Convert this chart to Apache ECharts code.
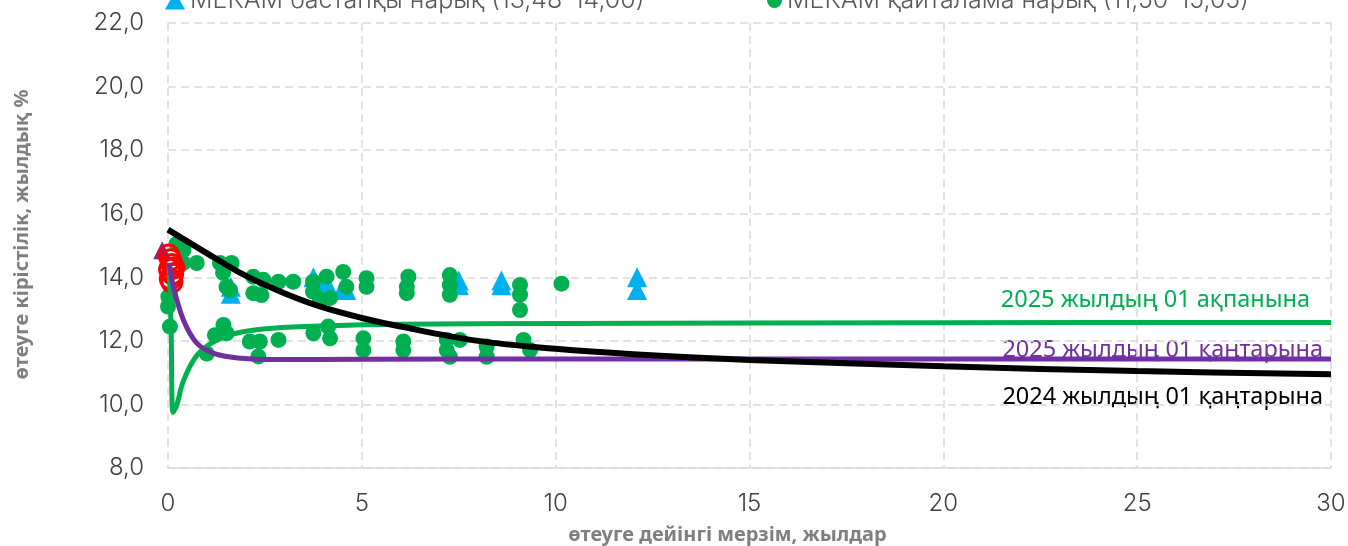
<!DOCTYPE html>
<html>
<head>
<meta charset="utf-8">
<script src="https://cdn.jsdelivr.net/npm/echarts@6/dist/echarts.min.js"></script>
<style>
  html, body { margin: 0; padding: 0; background: #fff; }
  #container { width: 1348px; height: 546px; }
</style>
</head>
<body>
<div id="container"></div>
<script>
var dom = document.getElementById("container");
var myChart = echarts.init(dom);

// legend names
var primaryName = 'МЕКАМ бастапқы нарық (13,48-14,00)';
var secondaryName = 'МЕКАМ қайталама нарық (11,50-15,05)';

// curve labels
var curveNames = ['2025 жылдың 01 ақпанына', '2025 жылдың 01 қаңтарына', '2024 жылдың 01 қаңтарына'];

// yield curves [maturity, yield]
var curveFeb2025 = [[0.03, 14.4], [0.08, 12.4], [0.13, 9.75], [0.22, 9.95], [0.4, 10.75], [0.75, 11.55],
    [1.25, 12.02], [1.9, 12.28], [2.7, 12.4], [4, 12.47], [6, 12.52], [10, 12.55], [20, 12.57], [30, 12.58]];
var curveJan2025 = [[0.03, 14.45], [0.14, 13.7], [0.4, 12.65], [0.75, 11.92], [1.2, 11.6], [1.9, 11.45],
    [2.7, 11.41], [5, 11.42], [10, 11.43], [30, 11.43]];
var curveJan2024 = [[0, 15.5], [1, 14.76], [2, 14.05], [3, 13.5], [4, 13.05], [5, 12.72],
    [6, 12.45], [8, 12.0], [10, 11.75], [12, 11.58], [15, 11.4], [20, 11.2], [25, 11.05], [30, 10.95]];

// primary market deals
var primaryDeals = [[1.62, 13.48], [1.62, 13.7], [3.75, 14.0], [3.9, 13.75], [4.1, 13.8], [4.5, 13.65],
    [4.6, 13.6], [7.5, 13.9], [7.5, 13.75], [8.6, 13.9], [8.6, 13.75], [12.1, 14.0], [12.1, 13.6]];

// secondary market deals
var secondaryDeals = [[0.22, 15.05], [0.4, 14.86], [0.39, 14.45], [0.74, 14.45], [0.01, 13.39], [0, 13.08],
    [0.05, 12.45], [1.34, 14.45], [1.64, 14.45], [1.42, 14.14], [1.51, 13.7], [1.6, 13.6], [2.2, 14.02],
    [2.46, 13.92], [2.2, 13.5], [2.41, 13.44], [2.85, 13.86], [3.23, 13.86], [3.74, 13.86], [4.09, 14.02],
    [4.52, 14.17], [4.6, 13.7], [5.12, 13.97], [5.12, 13.7], [3.74, 13.55], [3.92, 13.29], [4.18, 13.35],
    [1.43, 12.5], [1.51, 12.24], [1.0, 11.6], [1.21, 12.18], [2.11, 11.98], [2.37, 11.98], [2.33, 11.51],
    [2.85, 12.03], [3.75, 12.24], [4.13, 12.45], [4.18, 12.08], [5.04, 12.08], [5.04, 11.71],
    [6.2, 14.02], [6.16, 13.7], [6.16, 13.5], [7.27, 14.07], [7.27, 13.76], [7.27, 13.45], [9.08, 13.76],
    [9.08, 13.45], [9.08, 12.97], [10.15, 13.8], [6.07, 11.98], [6.07, 11.71], [7.19, 12.03], [7.19, 11.71],
    [7.27, 11.5], [7.53, 12.03], [8.22, 11.82], [8.22, 11.5], [9.17, 12.03], [9.34, 11.71]];

// short notes (red) and purple start point
var redNotes = [[0.02, 14.7], [0.07, 14.55], [0.1, 14.4], [0.04, 14.25], [0.15, 14.3], [0.12, 14.1],
    [0.06, 13.95], [0.1, 13.85]];
var purpleStart = [[-0.15, 14.85]];

var tickFont = 'Inter';
var option = {
    animation: false,
    backgroundColor: '#ffffff',
    grid: { left: 168, right: 17, top: 23, bottom: 78, outerBoundsMode: 'none', containLabel: false },
    legend: [{
        data: [{ name: primaryName, icon: 'triangle' }],
        left: 160, top: -17, itemWidth: 20, itemHeight: 18,
        textStyle: { fontFamily: tickFont, fontWeight: 300, fontSize: 25, color: '#595959' }
    }, {
        data: [{ name: secondaryName, icon: 'circle' }],
        left: 762, top: -17, itemWidth: 15, itemHeight: 15,
        textStyle: { fontFamily: tickFont, fontWeight: 300, fontSize: 25, color: '#595959' }
    }],
    xAxis: {
        type: 'value', min: 0, max: 30, interval: 5,
        name: 'өтеуге дейінгі мерзім, жылдар',
        nameLocation: 'middle', nameGap: 57,
        nameTextStyle: { fontFamily: 'Noto Sans', fontWeight: 'bold', fontSize: 20, color: '#7f7f7f', padding: [0, 44, 0, 0] },
        axisLine: { lineStyle: { color: '#d9d9d9', width: 1.5 } },
        axisTick: { show: false },
        axisLabel: { margin: 24, fontFamily: tickFont, fontWeight: 300, fontSize: 24, color: '#404040' },
        splitLine: { show: true, lineStyle: { color: '#d9d9d9', type: [8, 5], width: 1.5 } }
    },
    yAxis: {
        type: 'value', min: 8, max: 22, interval: 2,
        name: 'өтеуге кірістілік, жылдық %',
        nameLocation: 'middle', nameGap: 136, nameRotate: 90,
        nameTextStyle: { fontFamily: 'Noto Sans', fontWeight: 'bold', fontSize: 20, color: '#7f7f7f', padding: [0, 0, 0, 22] },
        axisLine: { show: false },
        axisTick: { show: false },
        axisLabel: {
            margin: 24, fontFamily: tickFont, fontWeight: 300, fontSize: 24, color: '#404040',
            formatter: function (v) { return v.toFixed(1).replace('.', ','); }
        },
        splitLine: { show: true, lineStyle: { color: '#d9d9d9', type: [8, 5], width: 1.5 } }
    },
    graphic: [
        { type: 'text', right: 38, top: 288, style: { text: curveNames[0], fontFamily: 'Noto Sans', fontSize: 23.5, fill: '#00b050' } },
        { type: 'text', right: 25, top: 338, style: { text: curveNames[1], fontFamily: 'Noto Sans', fontSize: 23.5, fill: '#7030a0' } },
        { type: 'text', right: 25, top: 385, style: { text: curveNames[2], fontFamily: 'Noto Sans', fontSize: 23.5, fill: '#000000' } }
    ],
    series: [{
        name: primaryName, type: 'scatter', data: primaryDeals, symbol: 'triangle', symbolSize: [20, 20],
        itemStyle: { color: '#00b0f0', opacity: 1 }, z: 2
    }, {
        name: secondaryName, type: 'scatter', data: secondaryDeals, symbol: 'circle', symbolSize: 16,
        itemStyle: { color: '#00b050', opacity: 1 }, z: 3
    }, {
        name: 'start', type: 'scatter', data: purpleStart, symbol: 'triangle', symbolSize: 18, clip: false,
        itemStyle: { color: '#7030a0', opacity: 1 }, z: 3
    }, {
        name: 'notes', type: 'scatter', data: redNotes, symbol: 'circle', symbolSize: 20, clip: false,
        itemStyle: { color: 'rgba(255,255,255,0)', borderColor: '#ff0000', borderWidth: 3, opacity: 1 }, z: 4
    }, {
        name: curveNames[0], type: 'line', data: curveFeb2025, smooth: 0.35, showSymbol: false,
        lineStyle: { color: '#00b050', width: 5 }, z: 5
    }, {
        name: curveNames[1], type: 'line', data: curveJan2025, smooth: 0.35, showSymbol: false,
        lineStyle: { color: '#7030a0', width: 5 }, z: 5
    }, {
        name: curveNames[2], type: 'line', data: curveJan2024, smooth: 0.35, showSymbol: false,
        lineStyle: { color: '#000000', width: 6 }, z: 6
    }]
};
myChart.setOption(option);
</script>
</body>
</html>
